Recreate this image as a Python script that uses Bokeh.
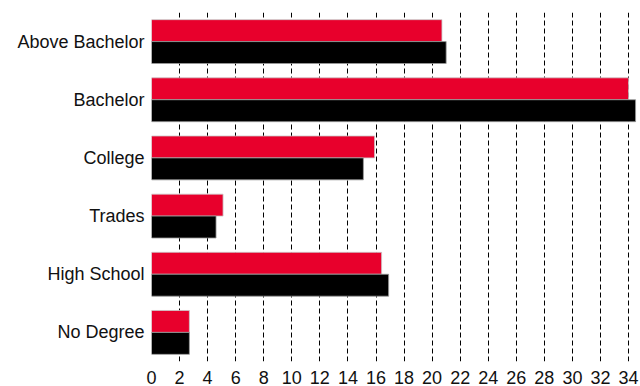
from bokeh.plotting import figure
from bokeh.models import ColumnDataSource, Range1d, FixedTicker, FactorRange
from bokeh.transform import dodge
from bokeh.embed import file_html
from bokeh.resources import INLINE

categories = ["No Degree", "High School", "Trades", "College", "Bachelor", "Above Bachelor"]
red_values = [2.7, 16.4, 5.1, 15.9, 34.0, 20.7]
black_values = [2.7, 16.9, 4.6, 15.1, 34.5, 21.0]
x_ticks = list(range(0, 35, 2))

source = ColumnDataSource(data=dict(cat=categories, red=red_values, black=black_values))

p = figure(width=640, height=386, output_backend="svg", toolbar_location=None,
           y_range=FactorRange(factors=categories), x_range=Range1d(0, 34.85))
p.min_border_left = 151
p.min_border_right = 0
p.min_border_top = 12
p.min_border_bottom = 24
p.outline_line_color = None
p.background_fill_color = "white"

bar_h = 0.377
p.hbar(y=dodge("cat", bar_h / 2, range=p.y_range), right="red", left=0, height=bar_h,
       source=source, fill_color="#E8002C", line_color="#c9c9c9", line_width=0.8)
p.hbar(y=dodge("cat", -bar_h / 2, range=p.y_range), right="black", left=0, height=bar_h,
       source=source, fill_color="#000000", line_color="#9a9a9a", line_width=0.8)

p.xaxis.ticker = FixedTicker(ticks=x_ticks)
p.xgrid.ticker = FixedTicker(ticks=x_ticks[1:])
p.xgrid.grid_line_color = "#000000"
p.xgrid.grid_line_dash = "5 3"
p.xgrid.grid_line_width = 1
p.ygrid.grid_line_color = None

for ax in (p.xaxis, p.yaxis):
    ax.axis_line_color = None
    ax.major_tick_line_color = None
    ax.minor_tick_line_color = None
    ax.major_label_text_font = "Liberation Sans"
    ax.major_label_text_font_size = "18px"
    ax.major_label_text_color = "#111111"
p.xaxis.major_label_standoff = 3
p.yaxis.major_label_standoff = 1

open("out.html", "w").write(file_html(p, INLINE))
